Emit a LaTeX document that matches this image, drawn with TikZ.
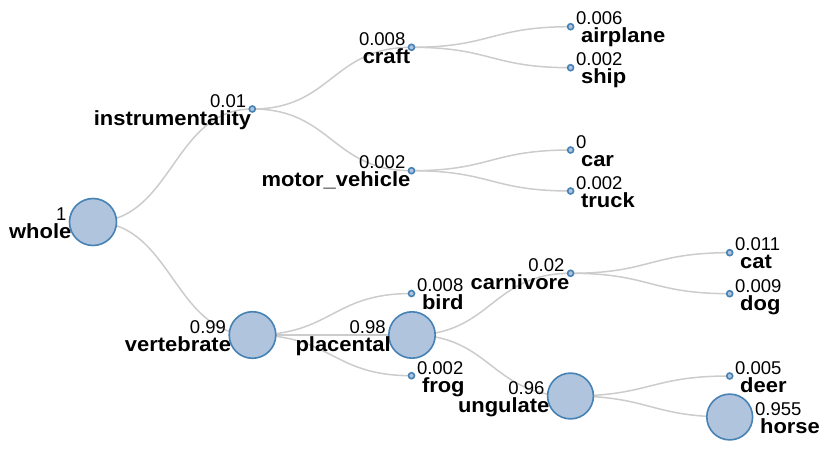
\documentclass[tikz,border=0pt]{standalone}
\usepackage{fontspec}
\setmainfont{Liberation Sans}
\newfontfamily\namefont{Liberation Sans}[FakeStretch=1.07]
\usetikzlibrary{calc,backgrounds}
\definecolor{steel}{HTML}{4682B4}
\definecolor{lightsteel}{HTML}{B0C4DE}
\definecolor{linkgray}{HTML}{CCCCCC}
\tikzset{
    tnode/.style={circle,draw=steel,fill=lightsteel,line width=1.6pt,inner sep=0pt,outer sep=0pt,minimum size=#1},
    tnode/.default=6,
    val/.style={inner sep=0pt,font=\fontsize{18.5}{20}\selectfont},
    tname/.style={inner sep=0pt,font=\fontsize{20.5}{22}\namefont\bfseries},
    link/.style={draw=linkgray,line width=1.5pt}
}
\newcommand{\link}[2]{\draw[link] let \p1=(#1), \p2=(#2) in (#1.center) .. controls ({(\x1+\x2)/2},\y1) and ({(\x1+\x2)/2},\y2) .. (#2.center);}

\begin{document}
\begin{tikzpicture}[x=1pt,y=-1pt]
    \useasboundingbox (0,0) rectangle (830,449);

    \node[tnode=47] (whole) at (93,222) {};
    \node[tnode] (instr) at (252.3,109) {};
    \node[tnode] (craft) at (411.5,47.3) {};
    \node[tnode] (airplane) at (570.6,26.7) {};
    \node[tnode] (ship) at (570.6,67.7) {};
    \node[tnode] (motor) at (411.5,170.7) {};
    \node[tnode] (car) at (570.6,150) {};
    \node[tnode] (truck) at (570.6,191) {};
    \node[tnode=46.6] (vert) at (252.5,335) {};
    \node[tnode] (bird) at (411.5,293.5) {};
    \node[tnode=46.4] (plac) at (412,335) {};
    \node[tnode] (frog) at (411.5,375.7) {};
    \node[tnode] (carn) at (570.6,273.3) {};
    \node[tnode] (cat) at (729.7,252.7) {};
    \node[tnode] (dog) at (729.7,293.7) {};
    \node[tnode=45.8] (ung) at (570.5,396) {};
    \node[tnode] (deer) at (729.7,376) {};
    \node[tnode=45.8] (horse) at (729.7,417) {};

    \begin{scope}[on background layer]
        \link{whole}{instr}
        \link{whole}{vert}
        \link{instr}{craft}
        \link{instr}{motor}
        \link{craft}{airplane}
        \link{craft}{ship}
        \link{motor}{car}
        \link{motor}{truck}
        \link{vert}{bird}
        \link{vert}{plac}
        \link{vert}{frog}
        \link{plac}{carn}
        \link{plac}{ung}
        \link{carn}{cat}
        \link{carn}{dog}
        \link{ung}{deer}
        \link{ung}{horse}
    \end{scope}

    % inner nodes: labels on the left
    \foreach \n/\v/\t in {whole/1/whole, instr/0.01/instrumentality, craft/0.008/craft,
        motor/0.002/motor\_vehicle, vert/0.99/vertebrate, plac/0.98/placental,
        carn/0.02/carnivore, ung/0.96/ungulate}{
        \node[val,anchor=base east] (\n-v) at ([shift={(-3,-1.7)}]\n.west) {\v};
        \node[tname,anchor=base east] (\n-t) at ([shift={(2,16.3)}]\n.west) {\t};
    }
    % leaves: labels on the right
    \foreach \n/\v/\t in {airplane/0.006/airplane, ship/0.002/ship, car/0/car, truck/0.002/truck,
        bird/0.008/bird, frog/0.002/frog, cat/0.011/cat, dog/0.009/dog,
        deer/0.005/deer, horse/0.955/horse}{
        \node[val,anchor=base west] (\n-v) at ([shift={(2.3,-1.7)}]\n.east) {\v};
        \node[tname,anchor=base west] (\n-t) at ([shift={(7.3,16.3)}]\n.east) {\t};
    }
\end{tikzpicture}
\end{document}
